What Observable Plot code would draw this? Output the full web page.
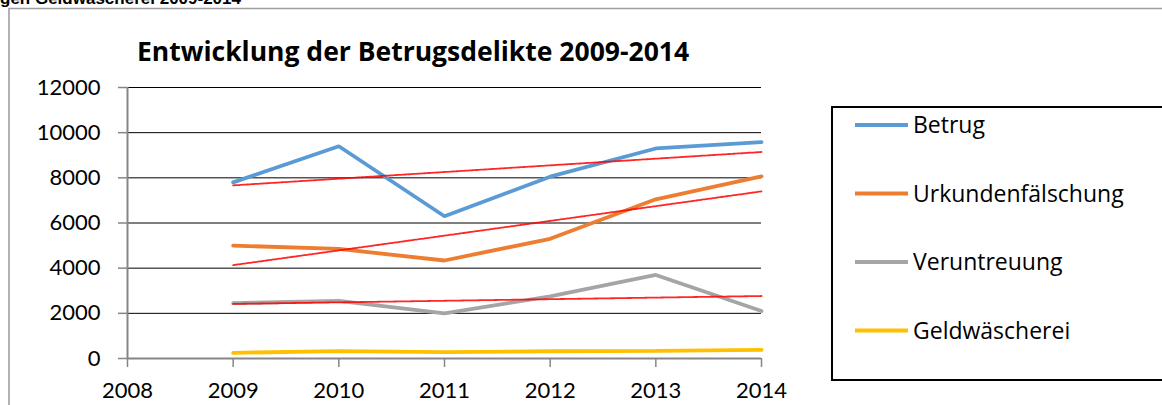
<!DOCTYPE html>
<html>
<head>
<meta charset="utf-8">
<script src="https://cdn.jsdelivr.net/npm/d3@7"></script>
<script src="https://cdn.jsdelivr.net/npm/@observablehq/plot@0.6"></script>
<style>
  html, body { margin: 0; padding: 0; background: #fff; }
  #wrap { position: relative; width: 1162px; height: 405px; overflow: hidden; background: #fff; }
</style>
</head>
<body>
<div id="wrap"></div>
<script>
// ---- data ----
const years = [2009, 2010, 2011, 2012, 2013, 2014];
const betrug = [7800, 9400, 6300, 8050, 9300, 9580];
const urkundenfaelschung = [5000, 4850, 4340, 5300, 7050, 8060];
const veruntreuung = [2450, 2550, 2000, 2750, 3700, 2100];
const geldwaescherei = [250, 330, 280, 320, 340, 380];
const seriesNames = ["Betrug", "Urkundenfälschung", "Veruntreuung", "Geldwäscherei"];
const trendSeries = ["Betrug", "Urkundenfälschung", "Veruntreuung"];
const xTicks = [2008, 2009, 2010, 2011, 2012, 2013, 2014];
const yTicks = [0, 2000, 4000, 6000, 8000, 10000, 12000];
const titleText = "Entwicklung der Betrugsdelikte 2009-2014";
const cutText = "gen Geldwäscherei 2009-2014";

// palette
const palette = ["#5B9BD5", "#ED7D31", "#A5A5A5", "#FFC000"];

const valuesBySeries = [betrug, urkundenfaelschung, veruntreuung, geldwaescherei];
const rows = [];
seriesNames.forEach((s, i) => years.forEach((y, j) => rows.push({series: s, year: y, value: valuesBySeries[i][j]})));
const trendRows = rows.filter(d => trendSeries.includes(d.series));

const W = 1162, H = 405;
const chart = Plot.plot({
  width: W,
  height: H,
  marginLeft: 127,
  marginTop: 87,
  marginBottom: 47,
  marginRight: 401,
  style: {fontFamily: "Lato, 'Open Sans', sans-serif", fontSize: "22px", color: "#000", background: "transparent", overflow: "visible"},
  x: {domain: [2008, 2014], label: null},
  y: {domain: [0, 12000], label: null},
  color: {domain: seriesNames, range: palette},
  marks: [
    Plot.ruleY(yTicks.filter(d => d > 0), {stroke: "#000", strokeWidth: 1}),
    Plot.axisY({ticks: yTicks, tickSize: 9, tickPadding: 18, stroke: "#868686", strokeWidth: 1.5, tickFormat: d => String(d), label: null}),
    Plot.axisX({ticks: xTicks, tickSize: 9, tickPadding: 15, stroke: "#868686", strokeWidth: 1.5, tickFormat: d => String(d), label: null}),
    Plot.ruleX([2008], {stroke: "#868686", strokeWidth: 2}),
    Plot.ruleY([0], {stroke: "#868686", strokeWidth: 2}),
    Plot.line(rows, {x: "year", y: "value", z: "series", stroke: "series", strokeWidth: 3.8, strokeLinejoin: "miter"}),
    Plot.linearRegressionY(trendRows, {x: "year", y: "value", z: "series", stroke: "#ff0000", strokeWidth: 1.8, strokeOpacity: 0.85, strokeDasharray: "2,0.8", ci: 0})
  ]
});
chart.style.position = "absolute";
chart.style.left = "0px";
chart.style.top = "0px";
document.getElementById("wrap").appendChild(chart);

// ---- frame, titles, legend ----
const svg = d3.select(chart);
const deco = svg.append("g").attr("text-anchor", "start");
// outer frame (gray, top + left)
deco.append("path").attr("d", "M9,420 V8.5 H1200").attr("fill", "none").attr("stroke", "#a0a0a0").attr("stroke-width", 1.6);
// cut-off heading at top
deco.append("text").attr("x", 0).attr("y", 4).attr("text-anchor", "start").text(cutText)
  .attr("font-family", "'Liberation Sans', Arial, sans-serif").attr("font-weight", "bold").attr("font-size", 17).attr("fill", "#000");
// chart title
deco.append("text").attr("x", 137).attr("y", 61).attr("text-anchor", "start").text(titleText)
  .attr("font-family", "'Open Sans', sans-serif").attr("font-weight", "bold").attr("font-size", 26.5).attr("fill", "#000");
// legend
const lg = deco.append("g");
lg.append("rect").attr("x", 832).attr("y", 107).attr("width", 400).attr("height", 273)
  .attr("fill", "#fff").attr("stroke", "#000").attr("stroke-width", 2);
seriesNames.forEach((s, i) => {
  const cy = 125 + i * 68.5;
  lg.append("line").attr("x1", 855).attr("x2", 908).attr("y1", cy).attr("y2", cy)
    .attr("stroke", palette[i]).attr("stroke-width", 3.8);
  lg.append("text").attr("x", 913).attr("y", cy + 8).attr("text-anchor", "start").text(s)
    .attr("font-family", "'Open Sans', sans-serif").attr("font-size", 23).attr("fill", "#000");
});
</script>
</body>
</html>
